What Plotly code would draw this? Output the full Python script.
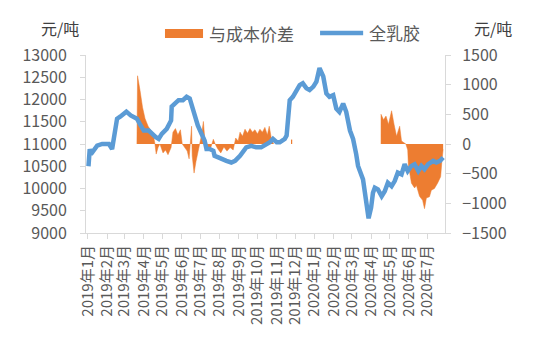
import plotly.graph_objects as go

# 全乳胶 price (元/吨, left axis)
latex_dates = [
    "2019-01-02","2019-01-04","2019-01-06","2019-01-11","2019-01-16","2019-01-24","2019-02-04","2019-02-09",
    "2019-02-12","2019-02-14","2019-02-17","2019-02-22","2019-02-28","2019-03-04","2019-03-11","2019-03-16",
    "2019-03-21","2019-03-27","2019-04-01","2019-04-09","2019-04-14","2019-04-20","2019-04-25","2019-04-30",
    "2019-05-08","2019-05-15","2019-05-16","2019-05-22","2019-05-27","2019-06-03","2019-06-09","2019-06-14",
    "2019-06-17","2019-06-22","2019-06-27","2019-07-03","2019-07-08","2019-07-11","2019-07-16","2019-07-22",
    "2019-07-24","2019-07-30","2019-08-04","2019-08-12","2019-08-20","2019-08-26","2019-09-03","2019-09-08",
    "2019-09-13","2019-09-21","2019-09-29","2019-10-07","2019-10-16","2019-10-21","2019-10-26","2019-11-01",
    "2019-11-06","2019-11-14","2019-11-17","2019-11-22","2019-11-27","2019-12-03","2019-12-08","2019-12-13",
    "2019-12-19","2019-12-24","2019-12-30","2020-01-04","2020-01-09","2020-01-15","2020-01-20","2020-01-25",
    "2020-01-31","2020-02-05","2020-02-10","2020-02-16","2020-02-21","2020-02-27","2020-03-03","2020-03-08",
    "2020-03-11","2020-03-19","2020-03-22","2020-03-25","2020-03-28","2020-04-01","2020-04-04","2020-04-07",
    "2020-04-12","2020-04-18","2020-04-23","2020-04-28","2020-05-04","2020-05-09","2020-05-14","2020-05-20",
    "2020-05-25","2020-05-30","2020-06-05","2020-06-10","2020-06-16","2020-06-21","2020-06-26","2020-07-02",
    "2020-07-10","2020-07-15","2020-07-21","2020-07-26",
]
latex_price = [
    10500,10886,10773,10886,10961,11000,11000,10886,
    11114,11341,11568,11614,11682,11727,11643,11614,
    11568,11416,11302,11302,11227,11159,11114,11227,
    11341,11530,11841,11909,11984,11984,12061,12023,
    11870,11643,11416,11227,11075,10886,10886,10848,
    10734,10698,10659,10620,10584,10620,10734,10848,
    10925,10961,10925,10925,11000,11039,11114,11039,
    11039,11114,11189,11984,12061,12211,12325,12364,
    12250,12211,12289,12402,12705,12516,12136,12061,
    12098,11795,11720,11909,11720,11302,11114,10773,
    10507,10205,9902,9598,9330,9568,9902,10016,
    9977,9825,9939,10130,10052,10166,10357,10318,
    10545,10393,10507,10545,10393,10507,10432,10545,
    10620,10584,10620,10698,
]

# 与成本价差 (元/吨, right axis) — three separate stretches
spread1_dates = [
    "2019-03-21","2019-03-22","2019-03-26","2019-03-30","2019-04-03","2019-04-08","2019-04-13","2019-04-17",
    "2019-04-19","2019-04-21","2019-04-24","2019-04-27","2019-05-02","2019-05-06","2019-05-10","2019-05-15",
    "2019-05-18","2019-05-22","2019-05-26","2019-05-30","2019-06-02","2019-06-06","2019-06-10","2019-06-13",
    "2019-06-15","2019-06-17","2019-06-18","2019-06-21","2019-06-24","2019-06-28","2019-07-01","2019-07-03",
    "2019-07-06","2019-07-08","2019-07-11","2019-07-14","2019-07-18","2019-07-22","2019-07-25","2019-07-29",
    "2019-08-03","2019-08-08","2019-08-13","2019-08-18","2019-08-23","2019-08-27","2019-08-31","2019-09-03",
    "2019-09-07","2019-09-11","2019-09-15","2019-09-19","2019-09-23","2019-09-27","2019-10-01","2019-10-05",
    "2019-10-09","2019-10-13","2019-10-17","2019-10-20","2019-10-23","2019-10-27",
]
spread1 = [
    0,1150,900,620,430,300,220,120,
    0,-170,-60,0,-150,-100,-180,-60,
    200,260,150,240,0,-60,-120,-250,
    120,300,-200,-490,-300,-100,0,150,
    380,120,0,-100,-60,80,0,-80,
    -150,-50,-120,-60,-100,100,50,200,
    130,250,180,260,200,240,170,250,
    200,280,150,300,120,0,
]
spread2_dates = ["2019-11-24","2019-11-26"]
spread2 = [70,70]
spread3_dates = [
    "2020-04-17","2020-04-17","2020-04-21","2020-04-25","2020-04-29","2020-05-01","2020-05-04","2020-05-08",
    "2020-05-12","2020-05-17","2020-05-20","2020-05-24","2020-05-27","2020-05-30","2020-05-31","2020-06-05",
    "2020-06-10","2020-06-13","2020-06-18","2020-06-23","2020-06-26","2020-06-29","2020-07-04","2020-07-07",
    "2020-07-12","2020-07-17","2020-07-22","2020-07-24","2020-07-26",
]
spread3 = [
    0,500,410,470,330,450,560,330,
    130,300,50,20,0,-100,-350,-660,
    -740,-700,-880,-950,-1090,-910,-890,-780,
    -750,-660,-550,-290,-90,
]

month_ticks = ["2019-01-01","2019-02-01","2019-03-01","2019-04-01","2019-05-01","2019-06-01","2019-07-01",
               "2019-08-01","2019-09-01","2019-10-01","2019-11-01","2019-12-01","2020-01-01","2020-02-01",
               "2020-03-01","2020-04-01","2020-05-01","2020-06-01","2020-07-01"]
month_labels = ["2019年1月","2019年2月","2019年3月","2019年4月","2019年5月","2019年6月","2019年7月",
                "2019年8月","2019年9月","2019年10月","2019年11月","2019年12月","2020年1月","2020年2月",
                "2020年3月","2020年4月","2020年5月","2020年6月","2020年7月"]

ORANGE = "#ED7D31"
BLUE = "#5B9BD5"
GRAY = "#595959"
AXIS = "#D9D9D9"
FONT = "Noto Sans CJK SC"

fig = go.Figure()
for d, v in [(spread1_dates, spread1), (spread2_dates, spread2), (spread3_dates, spread3)]:
    fig.add_trace(go.Scatter(x=d, y=v, mode="lines", fill="tozeroy", fillcolor=ORANGE,
                             line=dict(color=ORANGE, width=0.5), yaxis="y", showlegend=False,
                             name="与成本价差"))
fig.add_trace(go.Scatter(x=latex_dates, y=latex_price, mode="lines", line=dict(color=BLUE, width=4.5),
                         yaxis="y2", showlegend=False, name="全乳胶"))

fig.update_layout(
    width=550, height=356,
    margin=dict(l=78, r=113, t=47, b=131),
    paper_bgcolor="white", plot_bgcolor="white",
    font=dict(family=FONT, color=GRAY, size=15),
    xaxis=dict(type="date", range=["2018-12-29", "2020-07-29"], tickvals=month_ticks, ticktext=month_labels,
               tickangle=-90, showgrid=False, showline=True, linecolor=AXIS, linewidth=1, automargin=False,
               ticks="outside", ticklen=5, tickcolor=AXIS, tickfont=dict(size=15, color=GRAY)),
    yaxis=dict(side="right", range=[-1500, 1500], dtick=500, tickformat="d", showgrid=False, zeroline=False,
               showline=True, linecolor=AXIS, ticks="outside", ticklen=5, tickcolor=AXIS, automargin=False,
               tickfont=dict(size=16, color=GRAY), ticklabelstandoff=8),
    yaxis2=dict(side="left", overlaying="y", range=[9000, 13000], dtick=500, tickformat="d", showgrid=False,
                zeroline=False, showline=True, linecolor=AXIS, ticks="outside", ticklen=5, automargin=False,
                tickcolor=AXIS, tickfont=dict(size=16, color=GRAY), ticklabelstandoff=10),
    showlegend=False,
)

# manual legend
fig.add_shape(type="rect", xref="paper", yref="paper", x0=0.220, x1=0.326, y0=1.096, y1=1.146,
              fillcolor=ORANGE, line=dict(width=0))
fig.add_shape(type="line", xref="paper", yref="paper", x0=0.652, x1=0.772, y0=1.124, y1=1.124,
              line=dict(color=BLUE, width=4.5))
fig.add_annotation(text="与成本价差", xref="paper", yref="paper", x=0.337, y=1.121, xanchor="left",
                   yanchor="middle", showarrow=False, font=dict(size=17, color=GRAY, family=FONT))
fig.add_annotation(text="全乳胶", xref="paper", yref="paper", x=0.783, y=1.124, xanchor="left",
                   yanchor="middle", showarrow=False, font=dict(size=17, color=GRAY, family=FONT))
# unit labels
fig.add_annotation(text="元/吨", xref="paper", yref="paper", x=-0.072, y=1.152, xanchor="center",
                   yanchor="middle", showarrow=False, font=dict(size=16, color="#404040", family=FONT))
fig.add_annotation(text="元/吨", xref="paper", yref="paper", x=1.134, y=1.152, xanchor="center",
                   yanchor="middle", showarrow=False, font=dict(size=16, color="#404040", family=FONT))

fig.write_html("out.html")
